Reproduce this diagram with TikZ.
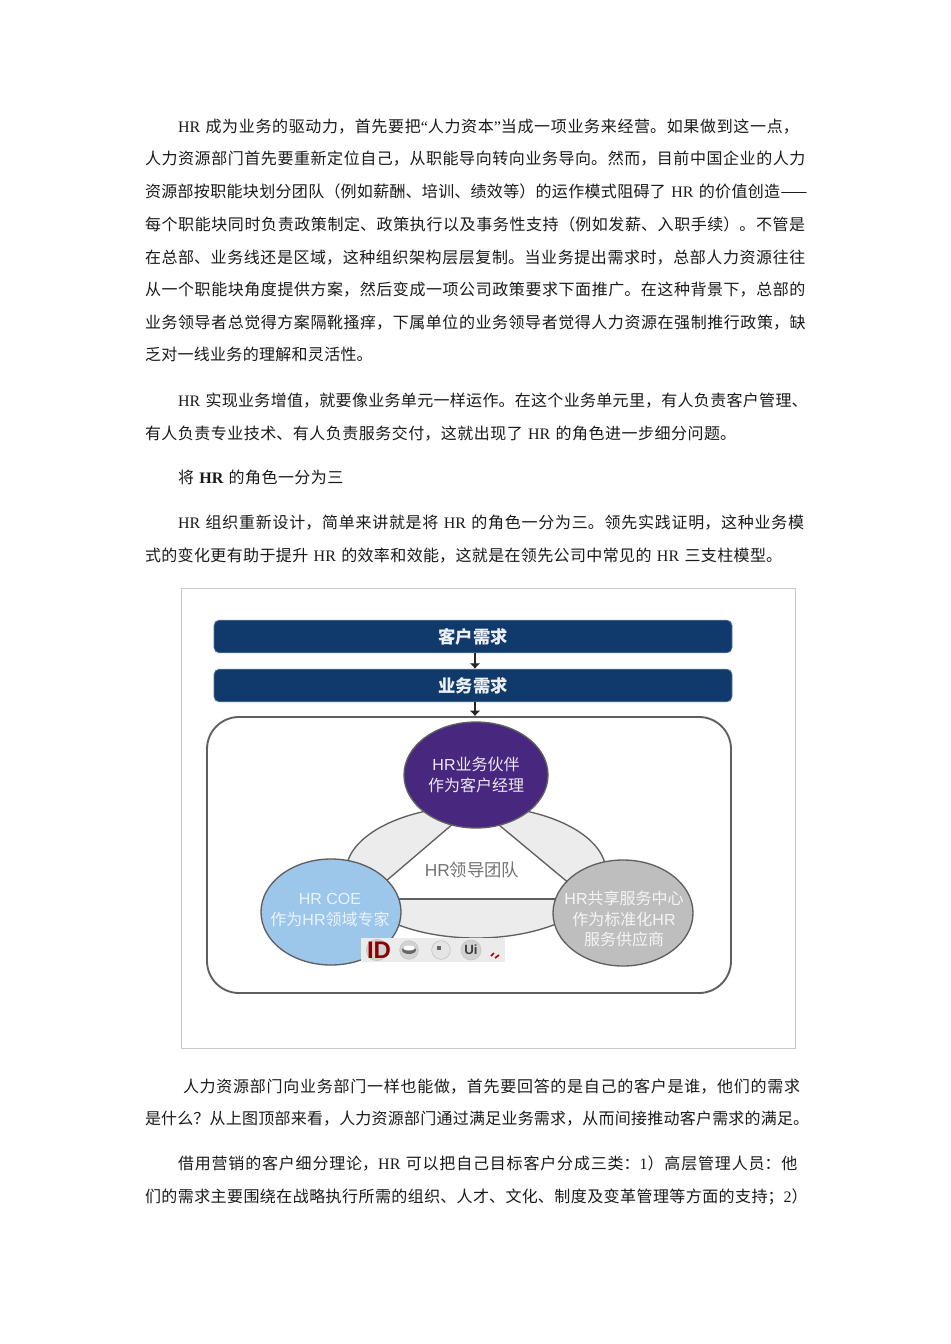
\documentclass[tikz,border=0pt]{standalone}
\usepackage{fontspec}
\usetikzlibrary{arrows.meta}
\setmainfont{Noto Sans CJK SC}
\newfontfamily\latf{Liberation Serif}
\newfontfamily\sansf{Liberation Sans}
\newcommand{\lat}[1]{{\latf #1}}
\definecolor{navy}{HTML}{0F3A6B}
\definecolor{purp}{HTML}{48277F}
\definecolor{bluec}{HTML}{9CC6EA}
\definecolor{grayc}{HTML}{BEBEBE}
\definecolor{ringc}{HTML}{ECECEC}
\definecolor{linec}{HTML}{5F5F5F}
\definecolor{txtc}{HTML}{1A1A1A}
\tikzset{
  just/.style={anchor=west,inner sep=0pt,outer sep=0pt,font=\fontsize{12pt}{16pt}\selectfont,text=txtc},
  bar/.style={draw=navy!70,fill=navy,rounded corners=4pt,line width=0.6pt,minimum width=388.5pt,minimum height=24.5pt,inner sep=0pt,text=white!92!navy,font=\fontsize{13pt}{15pt}\selectfont},
  dtext/.style={align=center,font=\fontsize{12pt}{15.5pt}\selectfont},
  arr/.style={-{Latex[length=4pt,width=8pt]},line width=2.2pt,black!85},
  btn/.style={circle,minimum size=16pt,inner sep=0pt,fill=gray!35,draw=gray!45,line width=0.5pt}
}
\newcommand{\jl}[5]{%
  \pgfmathsetlengthmacro{\tw}{(#3-#2+3)*0.75pt}%
  \node[just,text width=\tw] (#1) at (#2,#4+2) {\XeTeXlinebreaklocale "zh"\XeTeXlinebreakskip=0pt plus 3pt minus 0.7pt\parfillskip=0pt\tolerance=10000\hbadness=10000\hfuzz=20pt\leavevmode\strut #5\par};%
}
\begin{document}
\begin{tikzpicture}[x=0.75pt,y=-0.75pt]
\useasboundingbox (0,0) rectangle (950,1344);
\fill[white] (0,0) rectangle (950,1344);
\jl{a1}{178}{801}{126}{\lat{HR} 成为业务的驱动力，首先要把\lat{“}人力资本\lat{”}当成一项业务来经营。如果做到这一点，}
\jl{a2}{145}{807}{158}{人力资源部门首先要重新定位自己，从职能导向转向业务导向。然而，目前中国企业的人力}
\jl{a3}{145}{807}{191}{资源部按职能块划分团队（例如薪酬、培训、绩效等）的运作模式阻碍了 \lat{HR} 的价值创造——}
\jl{a4}{145}{807}{224}{每个职能块同时负责政策制定、政策执行以及事务性支持（例如发薪、入职手续）。不管是}
\jl{a5}{145}{807}{257}{在总部、业务线还是区域，这种组织架构层层复制。当业务提出需求时，总部人力资源往往}
\jl{a6}{145}{807}{289}{从一个职能块角度提供方案，然后变成一项公司政策要求下面推广。在这种背景下，总部的}
\jl{a7}{145}{807}{322}{业务领导者总觉得方案隔靴搔痒，下属单位的业务领导者觉得人力资源在强制推行政策，缺}
\jl{a8}{145}{372}{354}{乏对一线业务的理解和灵活性。}
\jl{b1}{178}{807}{400}{\lat{HR} 实现业务增值，就要像业务单元一样运作。在这个业务单元里，有人负责客户管理、}
\jl{b2}{145}{737}{433}{有人负责专业技术、有人负责服务交付，这就出现了 \lat{HR} 的角色进一步细分问题。}
\jl{c1}{178}{344}{477}{将 {\latf\bfseries HR} 的角色一分为三}
\jl{d1}{178}{807}{522}{\lat{HR} 组织重新设计，简单来讲就是将 \lat{HR} 的角色一分为三。领先实践证明，这种业务模}
\jl{d2}{145}{782}{555}{式的变化更有助于提升 \lat{HR} 的效率和效能，这就是在领先公司中常见的 \lat{HR} 三支柱模型。}
\jl{e1}{183}{803}{1086}{人力资源部门向业务部门一样也能做，首先要回答的是自己的客户是谁，他们的需求}
\jl{e2}{145}{808}{1118}{是什么？从上图顶部来看，人力资源部门通过满足业务需求，从而间接推动客户需求的满足。}
\jl{f1}{178}{801}{1163}{借用营销的客户细分理论，\lat{HR} 可以把自己目标客户分成三类：\lat{1}）高层管理人员：他}
\jl{f2}{145}{808}{1196}{们的需求主要围绕在战略执行所需的组织、人才、文化、制度及变革管理等方面的支持；\lat{2}）}

% figure frame
\node[draw=black!22,line width=0.7pt,minimum width=460.5pt,minimum height=345.5pt,inner sep=0pt] (frame) at (488,818.5) {};
\node[bar] (need1) at (473,636.5) {\bfseries 客户需求};
\node[bar] (need2) at (473,685.5) {\bfseries 业务需求};
\node[draw=linec,line width=1.4pt,rounded corners=24pt,minimum width=393pt,minimum height=207pt,inner sep=0pt] (outer) at (469,855) {};
\draw[arr] ([xshift=1.5pt]need1.south) -- ([xshift=1.5pt]need2.north);
\draw[arr] ([xshift=1.5pt]need2.south) -- ([xshift=1.5pt]need2.south |- outer.north);

% ring and white triangle
\coordinate (ringc) at (476,872);
\filldraw[fill=ringc,draw=linec,line width=1pt] (ringc) ellipse [x radius=130, y radius=66];
\coordinate (ta) at (475,805);
\coordinate (tb) at (365,899);
\coordinate (tc) at (588,899);
\filldraw[fill=white,draw=linec,line width=1pt] (ta) -- (tb) -- (tc) -- cycle;
\draw[linec,line width=1.6pt] (tb) -- (tc);
\node[font=\fontsize{13pt}{15pt}\selectfont,text=black!55] (lead) at (472,870) {{\sansf HR}领导团队};

% three discs
\path[fill=purp,draw=linec,line width=1pt] (476,775) ellipse [x radius=72, y radius=53];
\node[dtext,text=white!90!purp] (bp) at (476,775) {{\sansf HR}业务伙伴\\作为客户经理};
\path[fill=bluec,draw=linec,line width=1pt] (331,912) ellipse [x radius=70, y radius=53];
\node[dtext,text=white!80!bluec] (coe) at (330,910) {{\sansf HR COE}\\作为{\sansf HR}领域专家};
\path[fill=grayc,draw=linec,line width=1pt] (623,913) ellipse [x radius=70, y radius=53];
\node[dtext,text=white!85!grayc] (ssc) at (624,919) {{\sansf HR}共享服务中心\\作为标准化{\sansf HR}\\服务供应商};

% toolbar
\node[fill=black!8,minimum width=108pt,minimum height=18pt,inner sep=0pt] (tool) at (433,950) {};
\node[btn] (t1) at (377,950) {};
\node[text=red!55!black,font=\sansf\bfseries\fontsize{18pt}{18pt}\selectfont,inner sep=0pt] (tid) at (379,950) {ID};
\node[btn,minimum size=14pt] (t2) at (409,950) {};
\fill[black!60] (409,950) ellipse [x radius=7, y radius=4];
\fill[white] (409,948) ellipse [x radius=6, y radius=2.5];
\node[btn,minimum size=14pt,fill=black!10] (t3) at (441,950) {};
\node[fill=black!60,minimum size=3pt,inner sep=0pt] (t3d) at (439,948) {};
\node[btn,minimum size=15pt] (t4) at (471,950) {};
\node[text=black!75,font=\sansf\bfseries\fontsize{10pt}{10pt}\selectfont,inner sep=0pt] (tui) at (471,950) {Ui};
\draw[red!65!black,line width=1.2pt] (491,956) -- (494,953) (495,958) -- (499,955);
\end{tikzpicture}
\end{document}
